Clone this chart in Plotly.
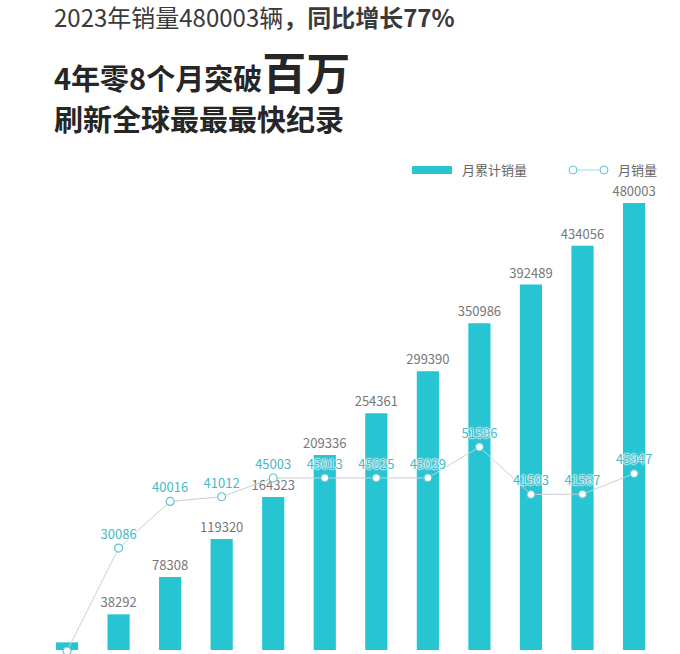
import plotly.graph_objects as go

months = ["1月", "2月", "3月", "4月", "5月", "6月", "7月", "8月", "9月", "10月", "11月", "12月"]
cumulative = [8206, 38292, 78308, 119320, 164323, 209336, 254361, 299390, 350986, 392489, 434056, 480003]
monthly = [8206, 30086, 40016, 41012, 45003, 45013, 45025, 45029, 51596, 41503, 41567, 45947]
bar_labels = [""] + [str(v) for v in cumulative[1:]]
line_labels = [""] + [str(v) for v in monthly[1:]]

W, H = 680, 654
TEAL = "#27c4d2"
FONT = "Noto Sans CJK SC"

fig = go.Figure()
fig.add_trace(go.Bar(
    x=months, y=cumulative, name="月累计销量",
    marker=dict(color=TEAL, line=dict(width=0)),
    text=bar_labels, textposition="outside", cliponaxis=False, constraintext="none",
    textfont=dict(family=FONT, size=13, color="#777777"),
    yaxis="y", showlegend=False,
))
fig.add_trace(go.Scatter(
    x=months, y=monthly, name="月销量", mode="lines+markers+text",
    line=dict(color="#c9cfd1", width=1),
    marker=dict(size=8, color="white", line=dict(color="#5cc6d4", width=1.2)),
    text=line_labels, textposition="top center",
    textfont=dict(family=FONT, size=13, color="#49b9ca",
                  shadow="0px 0px 2px #ffffff, 0px 0px 2px #ffffff, 0px 0px 2px #ffffff, 0px 0px 1px #ffffff"),
    yaxis="y2", showlegend=False, cliponaxis=False,
))

# axis scaling (pixel layout of the reference)
s_bar = 447 / 480003.0          # px per unit for cumulative bars
base_px = 650
s_line = 173 / 36794.0          # px per unit for monthly line
jan_px = 651

fig.update_layout(
    width=W, height=H,
    margin=dict(l=0, r=0, t=0, b=0),
    paper_bgcolor="white", plot_bgcolor="white",
    bargap=0.57,
    xaxis=dict(type="category", range=[-1.3, -1.3 + W / 51.55], visible=False, fixedrange=True),
    yaxis=dict(range=[-(H - base_px) / s_bar, base_px / s_bar], visible=False, fixedrange=True),
    yaxis2=dict(range=[monthly[0] - (H - jan_px) / s_line, monthly[0] + jan_px / s_line],
                overlaying="y", visible=False, fixedrange=True),
    font=dict(family=FONT),
)

def px(x, y):
    return x / W, 1 - y / H

# titles
anns = [
    (52, 17, "2023年销量480003辆<b>，同比增长77%</b>", 24, "#3a3a3a"),
    (52, 71, "<b>4年零8个月突破<span style='font-size:44px'>百万</span></b>", 29, "#262626"),
    (52, 118, "<b>刷新全球最最最快纪录</b>", 29, "#262626"),
]
for x, y, t, sz, c in anns:
    ax, ay = px(x, y)
    fig.add_annotation(x=ax, y=ay, xref="paper", yref="paper", text=t, showarrow=False,
                       xanchor="left", yanchor="middle", font=dict(family=FONT, size=sz, color=c))

# custom legend
LY = 170
x0, y0 = px(412, LY - 4)
x1, y1 = px(452, LY + 4)
fig.add_shape(type="rect", xref="paper", yref="paper", x0=x0, y0=y0, x1=x1, y1=y1,
              fillcolor=TEAL, line=dict(width=0))
lx, ly = px(460, LY)
fig.add_annotation(x=lx, y=ly, xref="paper", yref="paper", text="月累计销量", showarrow=False,
                   xanchor="left", yanchor="middle", font=dict(family=FONT, size=13, color="#666666"))
a0, ay0 = px(577, LY)
a1, _ = px(600, LY)
fig.add_shape(type="line", xref="paper", yref="paper", x0=a0, y0=ay0, x1=a1, y1=ay0,
              line=dict(color="#9fd9e0", width=1))
for cx in (573, 604):
    c0, cy0 = px(cx - 4, LY - 4)
    c1, cy1 = px(cx + 4, LY + 4)
    fig.add_shape(type="circle", xref="paper", yref="paper", x0=c0, y0=cy0, x1=c1, y1=cy1,
                  fillcolor="white", line=dict(color="#5cc6d4", width=1))
lx2, _ = px(616, LY)
fig.add_annotation(x=lx2, y=ly, xref="paper", yref="paper", text="月销量", showarrow=False,
                   xanchor="left", yanchor="middle", font=dict(family=FONT, size=13, color="#666666"))

fig.write_html("out.html", config={"displayModeBar": False})
